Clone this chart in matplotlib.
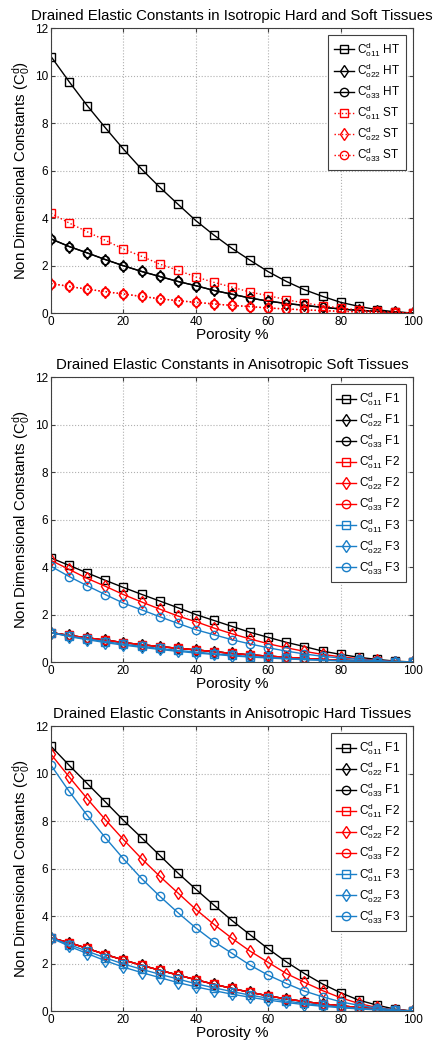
import matplotlib
matplotlib.use("Agg")
import matplotlib.pyplot as plt
import numpy as np

plt.rcParams['font.family'] = ['Liberation Sans', 'DejaVu Sans']
plt.rcParams['mathtext.fontset'] = 'custom'
plt.rcParams['mathtext.rm'] = 'Liberation Sans'
plt.rcParams['mathtext.it'] = 'Liberation Sans'

porosity = [0, 5, 10, 15, 20, 25, 30, 35, 40, 45, 50, 55, 60, 65, 70, 75, 80, 85, 90, 95, 100]

# Panel 1: isotropic
ht_c11 = [10.8, 9.74, 8.73, 7.8, 6.9, 6.06, 5.3, 4.59, 3.89, 3.28, 2.72, 2.22, 1.74, 1.33, 0.98, 0.70, 0.45, 0.28, 0.14, 0.05, 0.0]
ht_c22 = [3.12, 2.80, 2.53, 2.25, 1.99, 1.75, 1.54, 1.33, 1.15, 0.95, 0.79, 0.63, 0.50, 0.40, 0.32, 0.24, 0.17, 0.11, 0.07, 0.03, 0.0]
ht_c33 = [3.12, 2.80, 2.53, 2.25, 1.99, 1.75, 1.54, 1.33, 1.15, 0.95, 0.79, 0.63, 0.50, 0.40, 0.32, 0.24, 0.17, 0.11, 0.07, 0.03, 0.0]
st_c11 = [4.20, 3.79, 3.42, 3.06, 2.69, 2.39, 2.06, 1.80, 1.52, 1.29, 1.09, 0.88, 0.73, 0.56, 0.42, 0.31, 0.21, 0.13, 0.07, 0.03, 0.0]
st_c22 = [1.24, 1.12, 1.00, 0.90, 0.80, 0.70, 0.60, 0.52, 0.45, 0.38, 0.32, 0.27, 0.21, 0.17, 0.13, 0.10, 0.07, 0.05, 0.03, 0.01, 0.0]
st_c33 = [1.24, 1.12, 1.00, 0.90, 0.80, 0.70, 0.60, 0.52, 0.45, 0.38, 0.32, 0.27, 0.21, 0.17, 0.13, 0.10, 0.07, 0.05, 0.03, 0.01, 0.0]

# Panel 2: anisotropic soft tissues
s_f1_c11 = [4.38, 4.07, 3.75, 3.44, 3.14, 2.85, 2.57, 2.29, 2.00, 1.75, 1.50, 1.25, 1.04, 0.83, 0.65, 0.46, 0.32, 0.20, 0.11, 0.04, 0.0]
s_f1_c22 = [1.24, 1.12, 1.02, 0.92, 0.82, 0.73, 0.65, 0.58, 0.51, 0.44, 0.36, 0.30, 0.25, 0.20, 0.15, 0.11, 0.08, 0.05, 0.03, 0.01, 0.0]
s_f1_c33 = [1.24, 1.12, 1.02, 0.92, 0.82, 0.73, 0.65, 0.58, 0.51, 0.44, 0.36, 0.30, 0.25, 0.20, 0.15, 0.11, 0.08, 0.05, 0.03, 0.01, 0.0]
s_f2_c11 = [1.24, 1.12, 1.02, 0.92, 0.82, 0.73, 0.65, 0.58, 0.51, 0.44, 0.36, 0.30, 0.25, 0.20, 0.15, 0.11, 0.08, 0.05, 0.03, 0.01, 0.0]
s_f2_c22 = [4.28, 3.90, 3.52, 3.19, 2.84, 2.53, 2.23, 1.94, 1.70, 1.43, 1.19, 0.97, 0.77, 0.60, 0.45, 0.32, 0.22, 0.14, 0.07, 0.02, 0.0]
s_f2_c33 = [1.24, 1.12, 1.02, 0.92, 0.82, 0.73, 0.65, 0.58, 0.51, 0.44, 0.36, 0.30, 0.25, 0.20, 0.15, 0.11, 0.08, 0.05, 0.03, 0.01, 0.0]
s_f3_c11 = [1.24, 1.09, 0.97, 0.86, 0.75, 0.66, 0.57, 0.49, 0.42, 0.35, 0.29, 0.23, 0.19, 0.15, 0.11, 0.08, 0.06, 0.04, 0.02, 0.01, 0.0]
s_f3_c22 = [1.24, 1.07, 0.94, 0.82, 0.71, 0.62, 0.53, 0.45, 0.38, 0.32, 0.26, 0.21, 0.17, 0.13, 0.10, 0.07, 0.05, 0.03, 0.02, 0.01, 0.0]
s_f3_c33 = [4.03, 3.60, 3.21, 2.84, 2.48, 2.20, 1.91, 1.63, 1.36, 1.15, 0.94, 0.76, 0.60, 0.46, 0.34, 0.24, 0.17, 0.11, 0.06, 0.02, 0.0]

# Panel 3: anisotropic hard tissues
h_f1_c11 = [11.15, 10.35, 9.58, 8.81, 8.03, 7.30, 6.56, 5.82, 5.13, 4.46, 3.81, 3.21, 2.62, 2.07, 1.58, 1.14, 0.77, 0.46, 0.25, 0.08, 0.0]
h_f1_c22 = [3.08, 2.88, 2.64, 2.38, 2.15, 1.93, 1.72, 1.52, 1.32, 1.13, 0.95, 0.79, 0.64, 0.51, 0.40, 0.30, 0.22, 0.15, 0.09, 0.04, 0.0]
h_f1_c33 = [3.08, 2.88, 2.64, 2.38, 2.15, 1.93, 1.72, 1.52, 1.32, 1.13, 0.95, 0.79, 0.64, 0.51, 0.40, 0.30, 0.22, 0.15, 0.09, 0.04, 0.0]
h_f2_c11 = [3.08, 2.88, 2.64, 2.38, 2.15, 1.93, 1.72, 1.52, 1.32, 1.13, 0.95, 0.79, 0.64, 0.51, 0.40, 0.30, 0.22, 0.15, 0.09, 0.04, 0.0]
h_f2_c22 = [10.81, 9.86, 8.94, 8.06, 7.22, 6.42, 5.68, 4.98, 4.28, 3.65, 3.06, 2.52, 2.05, 1.58, 1.21, 0.86, 0.56, 0.32, 0.15, 0.05, 0.0]
h_f2_c33 = [3.08, 2.88, 2.64, 2.38, 2.15, 1.93, 1.72, 1.52, 1.32, 1.13, 0.95, 0.79, 0.64, 0.51, 0.40, 0.30, 0.22, 0.15, 0.09, 0.04, 0.0]
h_f3_c11 = [3.08, 2.80, 2.52, 2.24, 1.98, 1.76, 1.55, 1.35, 1.15, 0.98, 0.82, 0.67, 0.54, 0.42, 0.32, 0.24, 0.17, 0.11, 0.06, 0.03, 0.0]
h_f3_c22 = [3.08, 2.73, 2.42, 2.12, 1.85, 1.62, 1.41, 1.20, 1.02, 0.86, 0.71, 0.58, 0.46, 0.36, 0.27, 0.20, 0.14, 0.09, 0.05, 0.02, 0.0]
h_f3_c33 = [10.35, 9.25, 8.24, 7.30, 6.41, 5.58, 4.84, 4.15, 3.50, 2.92, 2.43, 1.93, 1.51, 1.16, 0.84, 0.60, 0.39, 0.24, 0.13, 0.05, 0.0]

titles = ["Drained Elastic Constants in Isotropic Hard and Soft Tissues",
          "Drained Elastic Constants in Anisotropic Soft Tissues",
          "Drained Elastic Constants in Anisotropic Hard Tissues"]
xlabel = "Porosity %"
ylabel = r"Non Dimensional Constants ($\mathregular{C^{d}_{0}}$)"
yticks = [0, 2, 4, 6, 8, 10, 12]
xticks = [0, 20, 40, 60, 80, 100]

def lab(comp, tag):
    return r"$\mathregular{C^{d}_{o%s}}$ %s" % (comp, tag)

BLACK = 'black'
RED = '#ff0000'
BLUE = '#1a7fc8'

fig = plt.figure(figsize=(4.4, 10.5), dpi=100)
positions = [[0.116, 0.7019, 0.8227, 0.2714],
             [0.116, 0.3695, 0.8227, 0.2714],
             [0.116, 0.0371, 0.8227, 0.2714]]
axes = [fig.add_axes(p) for p in positions]

mk = dict(markersize=6, markerfacecolor='none', markeredgewidth=1.0, linewidth=1.0)

ax = axes[0]
ax.plot(porosity, ht_c11, '-s', color=BLACK, label=lab('11', 'HT'), **mk)
ax.plot(porosity, ht_c22, '-d', color=BLACK, label=lab('22', 'HT'), **mk)
ax.plot(porosity, ht_c33, '-o', color=BLACK, label=lab('33', 'HT'), **mk)
ax.plot(porosity, st_c11, ':s', color=RED, label=lab('11', 'ST'), **mk)
ax.plot(porosity, st_c22, ':d', color=RED, label=lab('22', 'ST'), **mk)
ax.plot(porosity, st_c33, ':o', color=RED, label=lab('33', 'ST'), **mk)

sets = [
    (axes[1], [s_f1_c11, s_f1_c22, s_f1_c33, s_f2_c11, s_f2_c22, s_f2_c33, s_f3_c11, s_f3_c22, s_f3_c33]),
    (axes[2], [h_f1_c11, h_f1_c22, h_f1_c33, h_f2_c11, h_f2_c22, h_f2_c33, h_f3_c11, h_f3_c22, h_f3_c33]),
]
cols = [BLACK, BLACK, BLACK, RED, RED, RED, BLUE, BLUE, BLUE]
mks = ['s', 'd', 'o'] * 3
comps = ['11', '22', '33'] * 3
tags = ['F1'] * 3 + ['F2'] * 3 + ['F3'] * 3
for ax, series in sets:
    for s, c, m, cp, t in zip(series, cols, mks, comps, tags):
        ax.plot(porosity, s, '-' + m, color=c, label=lab(cp, t), **mk)

for ax, title in zip(axes, titles):
    ax.set_xlim(0, 100)
    ax.set_ylim(0, 12)
    ax.set_xticks(xticks)
    ax.set_yticks(yticks)
    ax.set_title(title, fontsize=10.8, pad=6)
    ax.set_xlabel(xlabel, fontsize=11, labelpad=0)
    ax.set_ylabel(ylabel, fontsize=10.8, labelpad=2)
    ax.grid(True, linestyle=':', color='#b0b0b0', linewidth=0.8)
    ax.tick_params(direction='in', top=True, right=True, labelsize=8.5, length=3, pad=2,
                   colors='#404040', labelcolor='black')
    for sp in ax.spines.values():
        sp.set_color('#404040')
        sp.set_linewidth(0.8)
    leg = ax.legend(loc='upper right', fontsize=8.5, handlelength=1.7, handletextpad=0.3,
                    labelspacing=0.2, borderpad=0.45, fancybox=False, framealpha=1,
                    edgecolor='#404040', borderaxespad=0.6)
    leg.get_frame().set_linewidth(0.8)

fig.savefig('out.png', dpi=100)
